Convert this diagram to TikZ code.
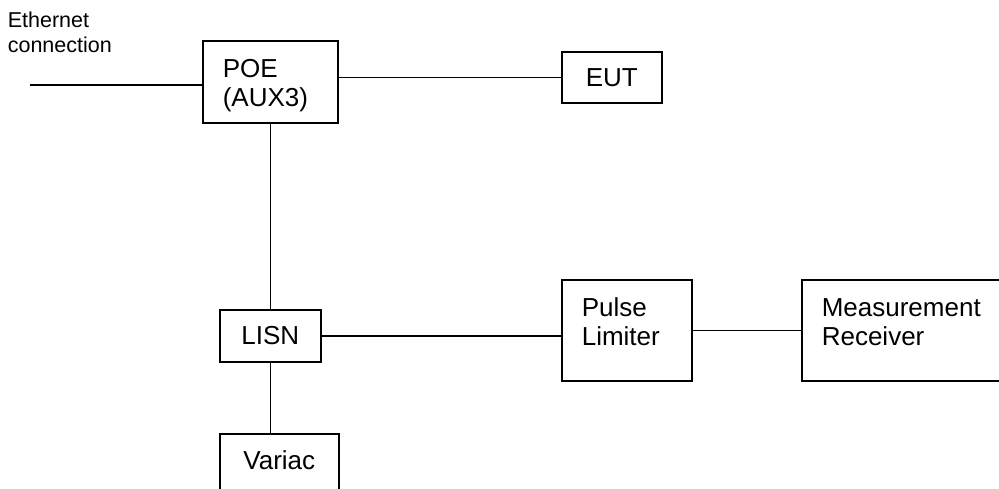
\documentclass[tikz,border=0pt]{standalone}
\usepackage{fontspec}
\setmainfont{Liberation Sans}
\usepackage{tikz}
\usetikzlibrary{positioning}

\begin{document}
\begin{tikzpicture}[
		x=1pt, y=-1pt,
		line width=1.6pt,
		every node/.style={
			draw,
			anchor=north west,
			inner xsep=20pt,
			text height=19pt,
			font=\fontsize{26}{29}\selectfont
		},
		blockl/.style={align=left},
		blockc/.style={align=center},
		plain/.style={draw=none, inner sep=0pt, align=left,
			text width=120pt, text height=15pt,
			font=\fontsize{21.5}{25}\selectfont}
		]
		
		\useasboundingbox (0,0) rectangle (999,488);
		\clip (0,0) rectangle (999,488);
		
		\node[plain] (ethlbl) at (7,12)
		{Ethernet\\connection};
		
		\node[blockl, text width=95pt, inner ysep=18pt, text depth=27pt]
		(poe) at (202,40)
		{POE\\(AUX3)};
		
		\node[blockc, text width=60pt, inner ysep=16pt, text depth=0pt]
		(eut) at (561,51)
		{EUT};
		
		\node[blockc, text width=61pt, inner ysep=16pt, text depth=1pt]
		(lisn) at (219,309)
		{LISN};
		
		\node[blockc, text width=79pt, inner ysep=17pt, text depth=27pt]
		(variac) at (219,433)
		{Variac};
		
		\node[blockl, text width=90pt, inner ysep=18pt, text depth=46pt]
		(pulse) at (561,279)
		{Pulse\\Limiter};
		
		\node[blockl, text width=220pt, inner ysep=18pt, text depth=46pt]
		(meas) at (801,279)
		{Measurement\\Receiver};
		
		% free end of the ethernet cable
		\coordinate (eth) at (30,85);
		
		\draw (eth) -- (eth -| poe.west);
		\draw (poe.east |- eut.west) -- (eut.west);
		\draw (poe.south) -- (lisn.north);
		\draw (lisn.east) -- (lisn.east -| pulse.west);
		\draw (pulse.east) -- (meas.west);
		\draw (lisn.south) -- (lisn.south |- variac.north);
		
	\end{tikzpicture}
\end{document}
